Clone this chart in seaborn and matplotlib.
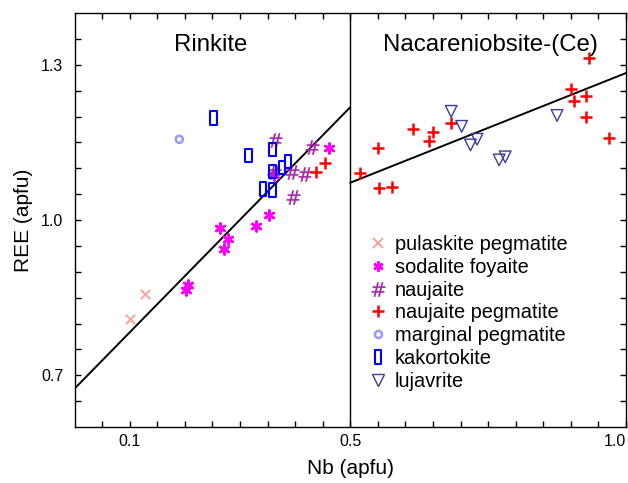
import numpy as np
import pandas as pd
import matplotlib
matplotlib.use("Agg")
import matplotlib.pyplot as plt
from matplotlib.path import Path
from matplotlib.lines import Line2D
import seaborn as sns

# --- measured compositions (apfu) -------------------------------------------
pulaskite_nb = [0.127, 0.100]
pulaskite_ree = [0.857, 0.808]

sodalite_nb = [0.462, 0.264, 0.279, 0.271, 0.329, 0.353, 0.205, 0.202, 0.361]
sodalite_ree = [1.140, 0.985, 0.964, 0.943, 0.989, 1.010, 0.874, 0.865, 1.087]

naujaite_nb = [0.364, 0.431, 0.418, 0.394, 0.361, 0.397]
naujaite_ree = [1.155, 1.142, 1.088, 1.092, 1.093, 1.045]

naujaite_peg_nb = [0.455, 0.437, 0.518, 0.550, 0.553, 0.576, 0.614, 0.650,
                   0.642, 0.682, 0.901, 0.905, 0.928, 0.928, 0.933, 0.969]
naujaite_peg_ree = [1.111, 1.093, 1.090, 1.139, 1.061, 1.064, 1.175, 1.171,
                    1.153, 1.188, 1.253, 1.229, 1.239, 1.200, 1.313, 1.158]

marginal_nb = [0.190]
marginal_ree = [1.156]

kakortokite_nb = [0.252, 0.315, 0.359, 0.359, 0.376, 0.387, 0.342, 0.359]
kakortokite_ree = [1.197, 1.124, 1.137, 1.093, 1.101, 1.113, 1.060, 1.058]

lujavrite_nb = [0.683, 0.702, 0.730, 0.718, 0.770, 0.781, 0.875]
lujavrite_ree = [1.210, 1.181, 1.156, 1.145, 1.116, 1.122, 1.202]

# linear trends: (intercept, slope, Nb range)
rinkite_fit = (0.674, 1.088, (0.0, 0.5))
nacareniobsite_fit = (0.860, 0.424, (0.5, 1.0))

x_ticks_labelled = [0.1, 0.5, 1.0]
y_ticks_labelled = [0.7, 1.0, 1.3]

# --- styling -----------------------------------------------------------------
sns.set_theme(style="white")
plt.rcParams["font.family"] = ["Liberation Sans", "DejaVu Sans"]
plt.rcParams["axes.edgecolor"] = "black"
plt.rcParams["axes.linewidth"] = 1.0
plt.rcParams["text.color"] = "black"
plt.rcParams["axes.labelcolor"] = "black"

rect_marker = Path([(-0.5, -1), (0.5, -1), (0.5, 1), (-0.5, 1), (-0.5, -1)],
                   [Path.MOVETO, Path.LINETO, Path.LINETO, Path.LINETO, Path.CLOSEPOLY])

groups = [
    dict(label="pulaskite pegmatite", x=pulaskite_nb, y=pulaskite_ree,
         marker="x", color="#ffa09a", s=45, lw=1.4),
    dict(label="sodalite foyaite", x=sodalite_nb, y=sodalite_ree,
         marker=(6, 2, 0), color="#ff00ff", s=52, lw=1.8),
    dict(label="naujaite", x=naujaite_nb, y=naujaite_ree,
         marker=r"$\#$", color="#a626a6", s=105, lw=0.2),
    dict(label="naujaite pegmatite", x=naujaite_peg_nb, y=naujaite_peg_ree,
         marker="+", color="#ff0000", s=70, lw=1.8),
    dict(label="marginal pegmatite", x=marginal_nb, y=marginal_ree,
         marker="o", color="#9999ff", s=26, lw=1.8, hollow=True),
    dict(label="kakortokite", x=kakortokite_nb, y=kakortokite_ree,
         marker=rect_marker, color="#0000ff", s=90, lw=1.5, hollow=True),
    dict(label="lujavrite", x=lujavrite_nb, y=lujavrite_ree,
         marker="v", color="#3c3c9c", s=70, lw=1.0, hollow=True),
]

fig = plt.figure(figsize=(6.28, 4.83), dpi=100)
ax = fig.add_axes([74.5 / 628, 56 / 483, (626 - 74.5) / 628, (427 - 13) / 483])

handles = []
for g in groups:
    df = pd.DataFrame({"Nb": g["x"], "REE": g["y"]})
    kw = dict(data=df, x="Nb", y="REE", ax=ax, marker=g["marker"], s=g["s"],
              linewidth=g["lw"], zorder=3, legend=False)
    if g.get("hollow"):
        kw.update(facecolor="none", edgecolor=g["color"])
    else:
        kw.update(color=g["color"], edgecolor=g["color"])
    sns.scatterplot(**kw)
    ms = np.sqrt(g["s"])
    if g.get("hollow"):
        h = Line2D([], [], linestyle="none", marker=g["marker"], markersize=ms,
                   markerfacecolor="none", markeredgecolor=g["color"],
                   markeredgewidth=g["lw"])
    else:
        h = Line2D([], [], linestyle="none", marker=g["marker"], markersize=ms,
                   color=g["color"], markeredgewidth=g["lw"])
    handles.append(h)

# trend lines
for b0, b1, (x0, x1) in (rinkite_fit, nacareniobsite_fit):
    xs = np.array([x0, x1])
    sns.lineplot(x=xs, y=b0 + b1 * xs, ax=ax, color="black", linewidth=1.4,
                 zorder=2)

# field boundary
ax.axvline(0.5, color="black", linewidth=1.0, zorder=2)

ax.set_xlim(0.0, 1.0)
ax.set_ylim(0.6, 1.4)

xt = np.round(np.arange(0.05, 1.0001, 0.05), 2)
ax.set_xticks(xt)
ax.set_xticklabels([f"{v:.1f}" if any(np.isclose(v, t) for t in x_ticks_labelled) else ""
                    for v in xt])
yt = np.round(np.arange(0.65, 1.4, 0.05), 2)
ax.set_yticks(yt)
ax.set_yticklabels([f"{v:.1f}" if any(np.isclose(v, t) for t in y_ticks_labelled) else ""
                    for v in yt])
ax.tick_params(direction="in", length=4.5, width=1.0, top=True, right=True,
               left=True, bottom=True, labelsize=11.5, colors="black")
ax.tick_params(axis="x", pad=5)
ax.tick_params(axis="y", pad=8)
# keep the label at the right end of the Nb axis inside the figure
ax.get_xticklabels()[-1].set_horizontalalignment("right")

ax.set_xlabel("Nb (apfu)", fontsize=15, labelpad=7)
ax.set_ylabel("REE (apfu)", fontsize=15, labelpad=6)

ax.text(0.247, 1.338, "Rinkite", ha="center", va="center", fontsize=17.3)
ax.text(0.755, 1.338, "Nacareniobsite-(Ce)", ha="center", va="center",
        fontsize=17.3)

ax.legend(handles, [g["label"] for g in groups], loc="upper left",
          bbox_to_anchor=((367.7 - 74.5) / 551.5, (427 - 235) / 414),
          frameon=False, fontsize=14.4, handlelength=1.0, handletextpad=0.35,
          labelspacing=0.19, borderpad=0, borderaxespad=0)

fig.savefig("out.png", dpi=100)
